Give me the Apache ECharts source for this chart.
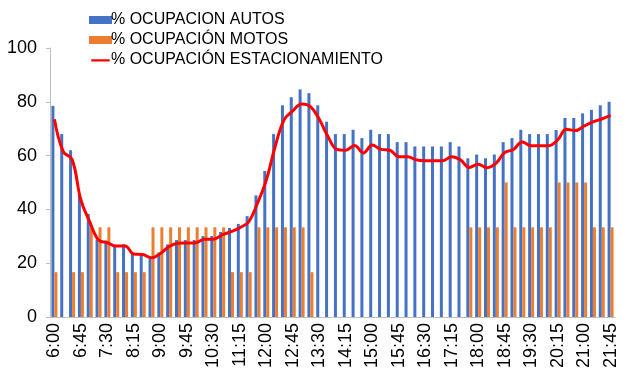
<!DOCTYPE html>
<html>
<head>
<meta charset="utf-8">
<script src="https://cdn.jsdelivr.net/npm/echarts@6/dist/echarts.min.js"></script>
<style>html,body{margin:0;padding:0;background:#fff}#c{width:637px;height:382px}</style>
</head>
<body>
<div id="c"></div>
<script>
var categories = ["6:00","6:15","6:30","6:45","7:00","7:15","7:30","7:45","8:00","8:15","8:30","8:45",
"9:00","9:15","9:30","9:45","10:00","10:15","10:30","10:45","11:00","11:15","11:30","11:45",
"12:00","12:15","12:30","12:45","13:00","13:15","13:30","13:45","14:00","14:15","14:30","14:45",
"15:00","15:15","15:30","15:45","16:00","16:15","16:30","16:45","17:00","17:15","17:30","17:45",
"18:00","18:15","18:30","18:45","19:00","19:15","19:30","19:45","20:00","20:15","20:30","20:45",
"21:00","21:15","21:30","21:45"];
var autos = [78.5,68,62,45.5,38.3,28.8,28.4,26.8,27,23.8,23.8,21.8,
24,27,28.6,28.6,28.6,30.1,30.1,31.6,33.1,34.6,37.5,45.2,
54.3,68,78.7,81.7,84.6,83.2,78.7,72.6,68,68,69.6,66.5,
69.6,68,68,65,65,63.4,63.4,63.4,63.4,65,63.4,59,
60.4,59,60.4,65,66.5,69.6,68,68,68,69.5,74,74,
75.7,77,78.7,80];
var motos = [16.67,0,16.67,16.67,33.33,33.33,33.33,16.67,16.67,16.67,16.67,33.33,
33.33,33.33,33.33,33.33,33.33,33.33,33.33,33.33,16.67,16.67,16.67,33.33,
33.33,33.33,33.33,33.33,33.33,16.67,0,0,0,0,0,0,
0,0,0,0,0,0,0,0,0,0,0,33.33,
33.33,33.33,33.33,50,33.33,33.33,33.33,33.33,33.33,50,50,50,
50,33.33,33.33,33.33];
var total = [73.5,61.5,58.6,43.5,35.4,28.6,27.6,26.4,26.4,23.4,23.2,22,
23.6,26.2,27.4,27.5,27.6,28.9,28.9,30.5,31.7,33.2,35.4,42.3,
50.9,63.3,73.2,76.6,79.2,78.2,73.5,67,62.3,62,63.8,61,
63.9,62.3,62,59.6,59.6,58.4,58.1,58.1,58.1,59.6,58.4,55.6,
56.8,55.5,57.1,61.1,62.3,65.1,63.7,63.7,63.7,65.8,69.8,69.3,
71,72.5,73.6,75];
var yTicks = [0,20,40,60,80,100];

var FONT = 'Liberation Sans, Arial, sans-serif';
var chart = echarts.init(document.getElementById('c'), null, {renderer:'canvas'});
chart.setOption({
  animation: false,
  textStyle: {fontFamily: FONT},
  legend: {
    orient: 'vertical',
    left: 84, top: 7,
    itemWidth: 23, itemHeight: 8, itemGap: 4,
    textStyle: {fontSize: 16, color: '#000', fontFamily: FONT, padding: [0,0,0,-6]},
    data: [
      {name: '% OCUPACION AUTOS', icon: 'rect'},
      {name: '% OCUPACIÓN MOTOS', icon: 'rect'},
      {name: '% OCUPACIÓN ESTACIONAMIENTO', icon: 'path://M0,0L0.01,0L0.01,0.01L0,0.01ZM0,10L0.01,10L0.01,10.01L0,10.01ZM0,4L23,4L23,7L0,7Z'}
    ]
  },
  grid: {left: 50, right: 22, top: 48, bottom: 65, containLabel: false},
  xAxis: {
    type: 'category',
    data: categories,
    boundaryGap: true,
    axisLine: {lineStyle: {color: '#bfbfbf', width: 1}},
    axisTick: {show: false},
    axisLabel: {interval: 2, rotate: 90, fontSize: 18, color: '#000', margin: 6, fontFamily: FONT}
  },
  yAxis: {
    type: 'value',
    min: yTicks[0], max: yTicks[yTicks.length-1], interval: 20,
    splitLine: {show: false},
    axisLine: {show: true, lineStyle: {color: '#bfbfbf', width: 1}},
    axisTick: {show: true, length: 4, lineStyle: {color: '#bfbfbf'}},
    axisLabel: {fontSize: 18, color: '#000', margin: 13, fontFamily: FONT}
  },
  series: [
    {name: '% OCUPACION AUTOS', type: 'bar', data: autos, barWidth: 3, barGap: '0%',
      itemStyle: {color: '#4472C4'}},
    {name: '% OCUPACIÓN MOTOS', type: 'bar', data: motos, barWidth: 3, barGap: '0%',
      itemStyle: {color: '#ED7D31'}},
    {name: '% OCUPACIÓN ESTACIONAMIENTO', type: 'line', data: total, smooth: 0.4,
      symbol: 'none', lineStyle: {color: '#FF0000', width: 3}, itemStyle: {color: '#FF0000'}, z: 5}
  ]
});
</script>
</body>
</html>
